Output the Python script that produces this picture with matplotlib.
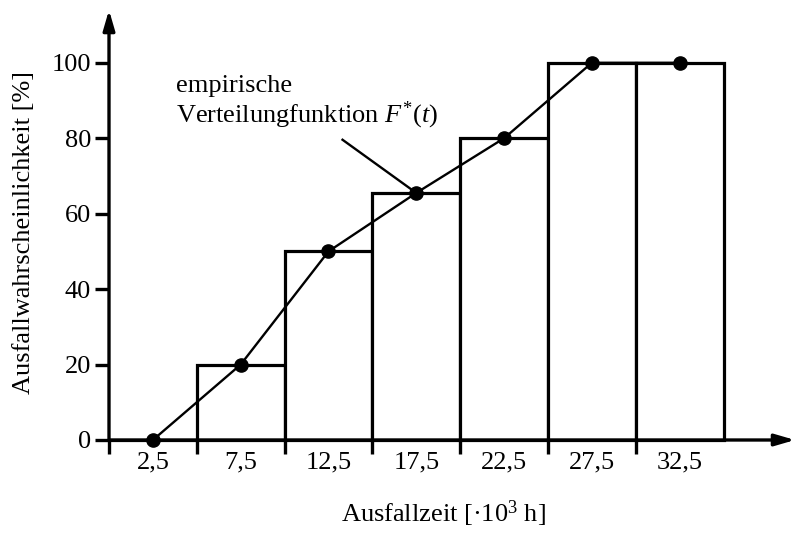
import matplotlib
matplotlib.use("Agg")
import matplotlib.pyplot as plt
import numpy as np

# Ausfallzeit-Klassen (Klassenmitten in 10^3 h) und kumulierte Ausfallwahrscheinlichkeit in %
klassen_mitte = [2.5, 7.5, 12.5, 17.5, 22.5, 27.5, 32.5]
klassen_label = ["2,5", "7,5", "12,5", "17,5", "22,5", "27,5", "32,5"]
summen_prozent = [0, 20, 50, 65.5, 80, 100, 100]
klassen_breite = 5
y_ticks = [0, 20, 40, 60, 80, 100]

plt.rcParams["font.family"] = ["Liberation Serif", "DejaVu Serif"]
plt.rcParams["mathtext.fontset"] = "custom"
plt.rcParams["mathtext.rm"] = "Liberation Serif"
plt.rcParams["mathtext.it"] = "Liberation Serif:italic"

fs = 19
W, H = 795, 537
fig = plt.figure(figsize=(W / 100, H / 100), dpi=100)
ax = fig.add_axes([109 / W, 97 / H, 686 / W, 430 / H])
ax.set_xlim(0, 39.07)
ax.set_ylim(0, 114)

# Treppen-Balken der Summenhaeufigkeit
ax.bar(klassen_mitte, summen_prozent, width=klassen_breite, facecolor="white",
       edgecolor="black", linewidth=2.3, zorder=2, clip_on=False)

# empirische Verteilungsfunktion
ax.plot(klassen_mitte, summen_prozent, color="black", lw=1.7, zorder=3, clip_on=False)
ax.plot(klassen_mitte, summen_prozent, "o", color="black", ms=9.5, zorder=4, clip_on=False)

for s in ["top", "right", "left", "bottom"]:
    ax.spines[s].set_visible(False)

# Achsen mit Pfeilspitzen
pfeil = dict(arrowstyle="-|>,head_length=1.2,head_width=0.35",
             color="black", lw=2.4, shrinkA=0, shrinkB=0)
ax.annotate("", xy=(39.07, 0), xytext=(0, 0), arrowprops=pfeil, zorder=5)
ax.annotate("", xy=(0, 114), xytext=(0, 0), arrowprops=pfeil, zorder=5)

# Teilstriche an den Klassengrenzen
ax.set_xticks(np.arange(0, 31, klassen_breite))
ax.set_xticklabels([])
ax.tick_params(axis="x", direction="out", length=10, width=2.4)
ax.set_yticks(y_ticks)
ax.set_yticklabels([str(v) for v in y_ticks], fontsize=fs)
ax.tick_params(axis="y", direction="out", length=10, width=2.4, pad=3)

for xm, lab in zip(klassen_mitte, klassen_label):
    ax.text(xm, -6, lab, ha="center", va="center", fontsize=fs)

fig.text(443 / W, 1 - 514 / H, "Ausfallzeit [·10$^{3}$ h]", fontsize=fs,
         ha="center", va="center")
fig.text(24 / W, 1 - 233 / H, "Ausfallwahrscheinlichkeit [%]", fontsize=fs,
         ha="center", va="center", rotation=90)

# Beschriftung der Verteilungsfunktion
ax.text(3.8, 84.1, "empirische\nVerteilungfunktion $F^{*}(t)$", fontsize=fs,
        ha="left", va="baseline", linespacing=1.15)
ax.plot([13.3, 17.5], [79.6, 65.5], color="black", lw=1.7, zorder=3)

fig.savefig("out.png", dpi=100)
